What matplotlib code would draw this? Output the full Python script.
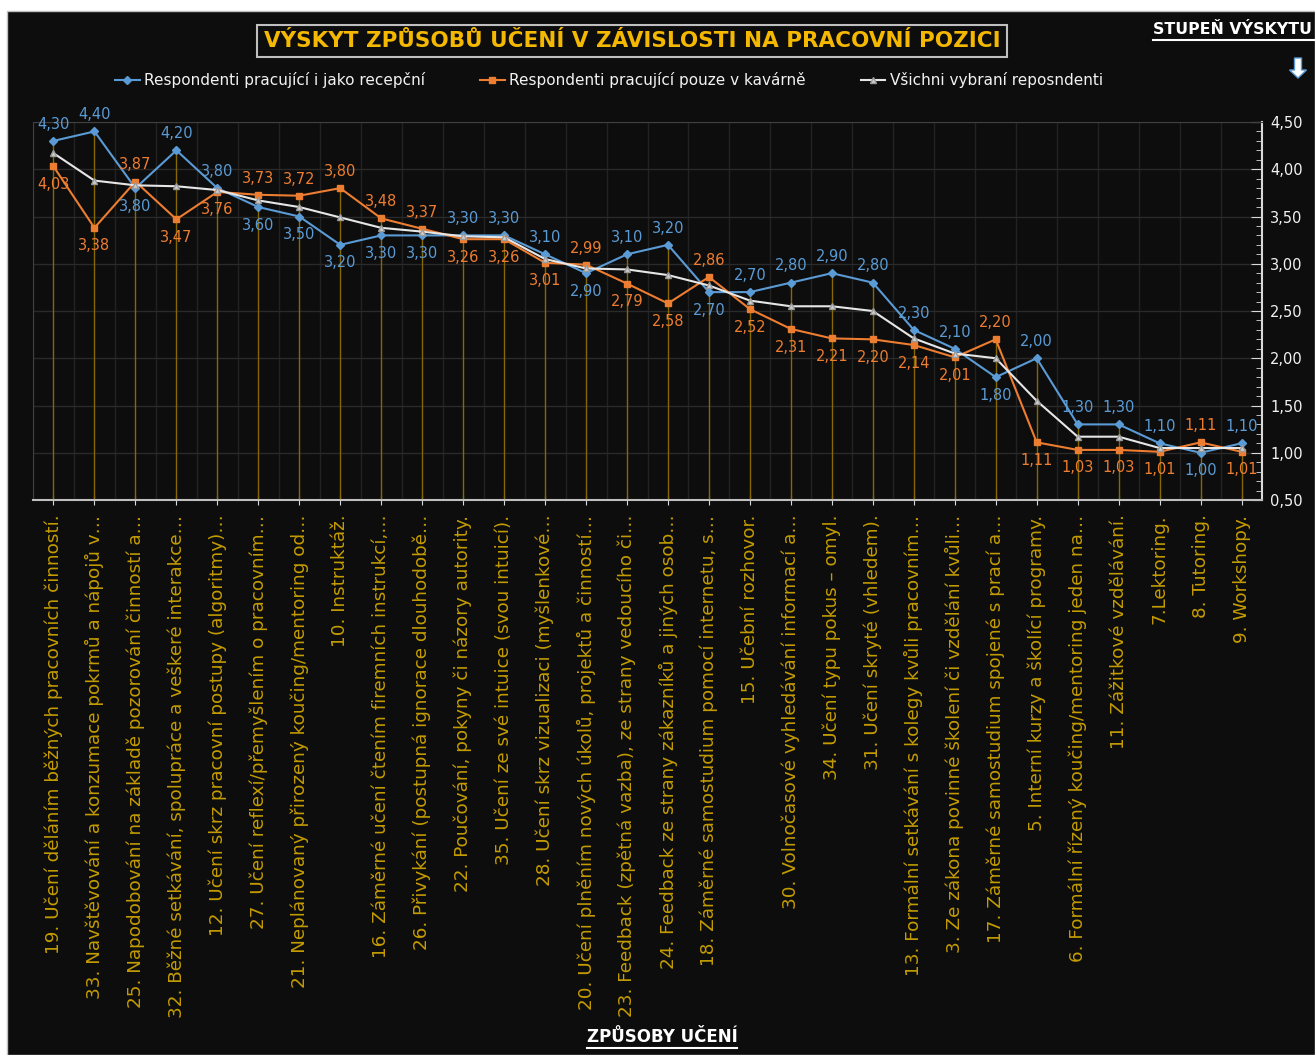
import numpy as np
import matplotlib.pyplot as plt
from matplotlib.lines import Line2D
from matplotlib.patches import Rectangle, FancyArrow
from matplotlib.ticker import MultipleLocator, FuncFormatter

# Categories (learning methods) as shown on the x axis
categories = [
    "19. Učení děláním běžných pracovních činností.",
    "33. Navštěvování a konzumace pokrmů a nápojů v…",
    "25. Napodobování na základě pozorování činností a…",
    "32. Běžné setkávání, spolupráce a veškeré interakce…",
    "12. Učení skrz pracovní postupy (algoritmy)…",
    "27. Učení reflexí/přemyšlením o pracovním…",
    "21. Neplánovaný přirozený koučing/mentoring od…",
    "10. Instruktáž.",
    "16. Záměrné učení čtením firemních instrukcí,…",
    "26. Přivykání (postupná ignorace dlouhodobě…",
    "22. Poučování, pokyny či názory autority.",
    "35. Učení ze své intuice (svou intuicí).",
    "28. Učení skrz vizualizaci (myšlenkové…",
    "20. Učení plněním nových úkolů, projektů a činností…",
    "23. Feedback (zpětná vazba), ze strany vedoucího či…",
    "24. Feedback ze strany zákazníků a jiných osob…",
    "18. Záměrné samostudium pomocí internetu, s…",
    "15. Učební rozhovor.",
    "30. Volnočasové vyhledávání informací a…",
    "34. Učení typu pokus – omyl.",
    "31. Učení skryté (vhledem).",
    "13. Formální setkávání s kolegy kvůli pracovním…",
    "3. Ze zákona povinné školení či vzdělání kvůli…",
    "17. Záměrné samostudium spojené s prací a…",
    "5. Interní kurzy a školící programy.",
    "6. Formální řízený koučing/mentoring jeden na…",
    "11. Zážitkové vzdělávání.",
    "7.Lektoring.",
    "8. Tutoring.",
    "9. Workshopy.",
]

# Series values
recepcni = [4.30, 4.40, 3.80, 4.20, 3.80, 3.60, 3.50, 3.20, 3.30, 3.30,
            3.30, 3.30, 3.10, 2.90, 3.10, 3.20, 2.70, 2.70, 2.80, 2.90,
            2.80, 2.30, 2.10, 1.80, 2.00, 1.30, 1.30, 1.10, 1.00, 1.10]
kavarna = [4.03, 3.38, 3.87, 3.47, 3.76, 3.73, 3.72, 3.80, 3.48, 3.37,
           3.26, 3.26, 3.01, 2.99, 2.79, 2.58, 2.86, 2.52, 2.31, 2.21,
           2.20, 2.14, 2.01, 2.20, 1.11, 1.03, 1.03, 1.01, 1.11, 1.01]
vsichni = [4.17, 3.88, 3.83, 3.82, 3.78, 3.67, 3.60, 3.49, 3.38, 3.34,
           3.29, 3.28, 3.05, 2.95, 2.94, 2.88, 2.77, 2.61, 2.55, 2.55,
           2.50, 2.21, 2.05, 2.00, 1.55, 1.17, 1.17, 1.05, 1.05, 1.05]

series_names = ["Respondenti pracující i jako recepční",
                "Respondenti pracující pouze v kavárně",
                "Všichni vybraní reposndenti"]

BG = '#0d0d0d'
BLUE = '#5b9bd5'
ORANGE = '#ed7d31'
WHITE = '#e6e6e6'
GOLD = '#c49c00'

W, H = 1315, 1055
fig = plt.figure(figsize=(W / 100, H / 100), dpi=100, facecolor='white')

# dark panel behind everything
fig.patches.append(Rectangle((7 / W, 0), 1 - 7 / W, 1 - 11 / H, transform=fig.transFigure,
                             facecolor=BG, edgecolor='#bfbfbf', linewidth=1.0, zorder=-5))

ax = fig.add_axes([33 / W, 1 - 500 / H, (1262 - 33) / W, (500 - 122) / H])
ax.set_facecolor(BG)

x = np.arange(len(categories))

# drop lines from the highest point down to the axis
tops = np.maximum(np.maximum(recepcni, kavarna), vsichni)
ax.vlines(x, 0.5, tops, color='#856800', linewidth=1.0, zorder=1)

ax.plot(x, recepcni, color=BLUE, marker='D', markersize=4, linewidth=1.5, zorder=3)
ax.plot(x, kavarna, color=ORANGE, marker='s', markersize=5, linewidth=1.5, zorder=3)
ax.plot(x, vsichni, color=WHITE, marker='^', markersize=5, markerfacecolor='#cfcfcf',
        markeredgecolor='#9a9a9a', linewidth=1.5, zorder=4)

# data labels: higher of the two series above, lower below
fmt = lambda v: ("%.2f" % v).replace('.', ',')
for i in range(len(x)):
    b, o = recepcni[i], kavarna[i]
    b_off = 12 if b >= o else -13
    o_off = 12 if o > b else -13
    ax.annotate(fmt(b), (x[i], b), xytext=(0, b_off), textcoords='offset points',
                ha='center', va='center', color=BLUE, fontsize=10.5, zorder=5)
    ax.annotate(fmt(o), (x[i], o), xytext=(0, o_off), textcoords='offset points',
                ha='center', va='center', color=ORANGE, fontsize=10.5, zorder=5)

ax.set_xlim(-0.5, len(x) - 0.5)
ax.set_ylim(0.5, 4.5)

# y axis on the right
ax.yaxis.tick_right()
ax.yaxis.set_major_locator(MultipleLocator(0.5))
ax.yaxis.set_minor_locator(MultipleLocator(0.1))
ax.yaxis.set_major_formatter(FuncFormatter(lambda v, p: fmt(v)))
ax.tick_params(axis='y', which='major', direction='in', length=8, color='#d9d9d9',
               labelcolor='#f2f2f2', labelsize=10.5, pad=6)
ax.tick_params(axis='y', which='minor', direction='in', length=4, color='#d9d9d9')

ax.set_xticks(x)
ax.set_xticklabels(categories, rotation=90, color=GOLD, fontsize=13.2)
ax.set_xticks(x - 0.5, minor=True)
ax.tick_params(axis='x', which='major', direction='inout', length=7, color='#d9d9d9', pad=7)
ax.tick_params(axis='x', which='minor', length=0)

ax.grid(axis='y', which='major', color='#2a2a2a', linewidth=1)
ax.grid(axis='x', which='minor', color='#222222', linewidth=1)
ax.set_axisbelow(True)

for side in ['left', 'top']:
    ax.spines[side].set_color('#404040')
ax.spines['bottom'].set_color('#bfbfbf')
ax.spines['bottom'].set_linewidth(1.5)
ax.spines['right'].set_color('#d9d9d9')
ax.spines['right'].set_linewidth(1.5)

# legend
handles = [
    Line2D([], [], color=BLUE, marker='D', markersize=4, linewidth=1.5),
    Line2D([], [], color=ORANGE, marker='s', markersize=5, linewidth=1.5),
    Line2D([], [], color=WHITE, marker='^', markersize=5, markerfacecolor='#cfcfcf',
           markeredgecolor='#9a9a9a', linewidth=1.5),
]
leg = fig.legend(handles, series_names, loc='center', bbox_to_anchor=(609 / W, 1 - 80 / H),
                 ncol=3, frameon=False, handlelength=1.6, handletextpad=0.3,
                 columnspacing=3.6, fontsize=11)
for t in leg.get_texts():
    t.set_color('#f2f2f2')

# title in a box
fig.text(632 / W, 1 - 41 / H, "VÝSKYT ZPŮSOBŮ UČENÍ V ZÁVISLOSTI NA PRACOVNÍ POZICI",
         ha='center', va='center', color='#f5b800', fontsize=15.5, fontweight='bold',
         bbox=dict(boxstyle='square,pad=0.3', facecolor='none', edgecolor='#bfbfbf', linewidth=1.5))

# side and bottom headings, underlined
fig.text(1153 / W, 1 - 30 / H, "STUPEŇ VÝSKYTU", ha='left', va='center', color='white',
         fontsize=11.3, fontweight='bold')
fig.add_artist(Line2D([1153 / W, 1], [1 - 40 / H] * 2, color='white', linewidth=1.5))

fig.text(662 / W, 1 - 1037 / H, "ZPŮSOBY UČENÍ", ha='center', va='center', color='white',
         fontsize=12, fontweight='bold')
fig.add_artist(Line2D([587 / W, 737 / W], [1 - 1048 / H] * 2, color='white', linewidth=1.5))

# down arrow
fig.patches.append(FancyArrow(12.98, (H - 58) / 100, 0, -0.2, width=0.07, head_width=0.17,
                              head_length=0.08, length_includes_head=True,
                              transform=fig.dpi_scale_trans, facecolor='white',
                              edgecolor=BLUE, linewidth=1.0))

fig.savefig('out.png', dpi=100, facecolor=fig.get_facecolor())
